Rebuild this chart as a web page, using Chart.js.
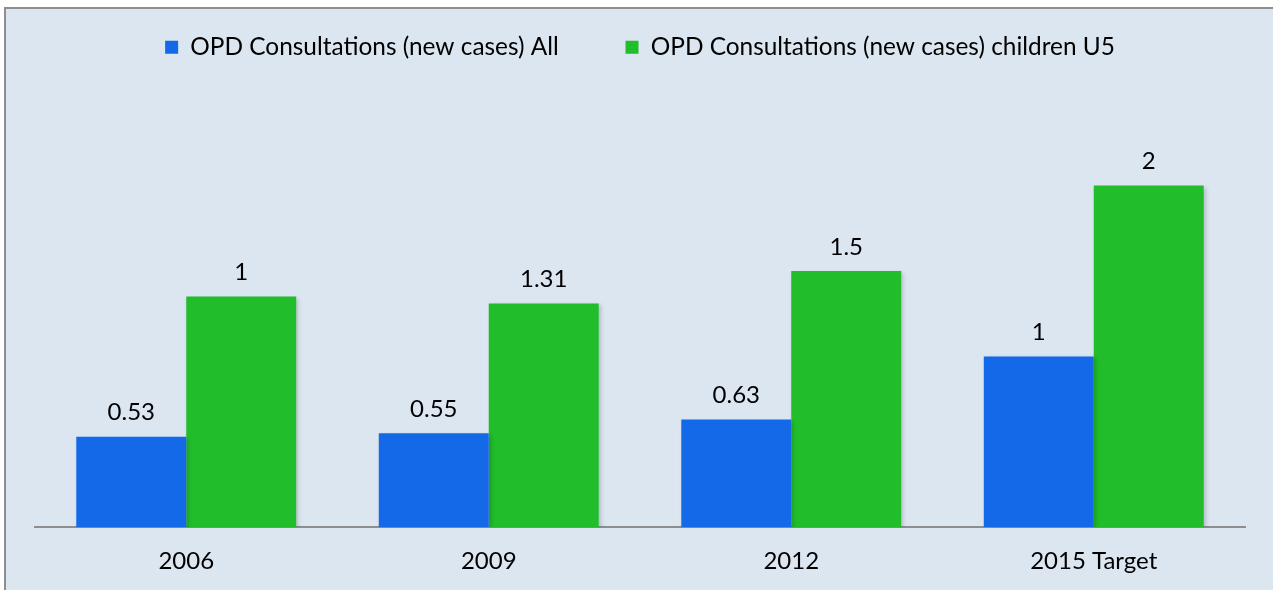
<!DOCTYPE html>
<html>
<head>
<meta charset="utf-8">
<script src="https://cdn.jsdelivr.net/npm/chart.js@4"></script>
<style>
  html, body { margin: 0; padding: 0; background: #fff; }
  #frame {
    position: absolute; left: 4px; top: 7px; width: 1275px; height: 590px;
    border: 2px solid #8e8e8e; background: #dce6f1; box-sizing: border-box;
  }
  #wrap { position: absolute; left: 0; top: 0; width: 1271px; height: 586px; }
</style>
</head>
<body>
<div id="frame"><div id="wrap"><canvas id="c"></canvas></div></div>
<script>
// values
const categories = ["2006", "2009", "2012", "2015 Target"];
const allValues = [0.53, 0.55, 0.63, 1];
const u5Values = [1.35, 1.31, 1.5, 2];
// labels as printed on the chart (2006 U5 is shown as "1")
const allLabels = ["0.53", "0.55", "0.63", "1"];
const u5Labels = ["1", "1.31", "1.5", "2"];
const seriesNames = ["OPD Consultations (new cases) All", "OPD Consultations (new cases) children U5"];

const FONT = "Lato, 'Open Sans', sans-serif";

const barLabels = {
  id: "barLabels",
  afterDatasetsDraw(chart) {
    const { ctx } = chart;
    const texts = [allLabels, u5Labels];
    ctx.save();
    ctx.font = "24px " + FONT;
    ctx.fillStyle = "#000";
    ctx.textAlign = "center";
    ctx.textBaseline = "bottom";
    chart.data.datasets.forEach((ds, i) => {
      chart.getDatasetMeta(i).data.forEach((bar, j) => {
        ctx.fillText(texts[i][j], bar.x, bar.y - 12);
      });
    });
    ctx.restore();
  },
};

const barShadow = {
  id: "barShadow",
  beforeDatasetsDraw(chart) {
    const { ctx } = chart;
    ctx.save();
    ctx.shadowColor = "rgba(0,0,0,0.18)";
    ctx.shadowBlur = 4;
    ctx.shadowOffsetX = 2;
    ctx.shadowOffsetY = 2;
  },
  afterDatasetsDraw(chart) {
    chart.ctx.restore();
  },
};

new Chart(document.getElementById("c"), {
  type: "bar",
  data: {
    labels: categories,
    datasets: [
      { label: seriesNames[0], data: allValues, backgroundColor: "#1369e8" },
      { label: seriesNames[1], data: u5Values, backgroundColor: "#21bd2a" },
    ],
  },
  options: {
    responsive: true,
    maintainAspectRatio: false,
    animation: false,
    layout: { padding: { left: 29, right: 32, top: 8, bottom: -1 } },
    datasets: { bar: { categoryPercentage: 0.727, barPercentage: 1 } },
    plugins: {
      tooltip: { enabled: false },
      legend: {
        position: "top",
        labels: {
          font: { family: FONT, size: 24.4 },
          color: "#000",
          boxWidth: 13,
          boxHeight: 13,
          padding: 18,
          generateLabels(chart) {
            const items = Chart.defaults.plugins.legend.labels.generateLabels(chart);
            items[0].text += "\u2003\u2003\u2002";
            items.forEach((it) => { it.lineWidth = 0; });
            return items;
          },
        },
      },
    },
    scales: {
      x: {
        grid: { display: false, drawTicks: false },
        border: { display: true, color: "#8e8e8e", width: 2 },
        ticks: { color: "#000", font: { family: FONT, size: 24 }, padding: 20 },
      },
      y: {
        display: false,
        min: 0,
        max: 2.68,
      },
    },
  },
  plugins: [barShadow, barLabels],
});
</script>
</body>
</html>
